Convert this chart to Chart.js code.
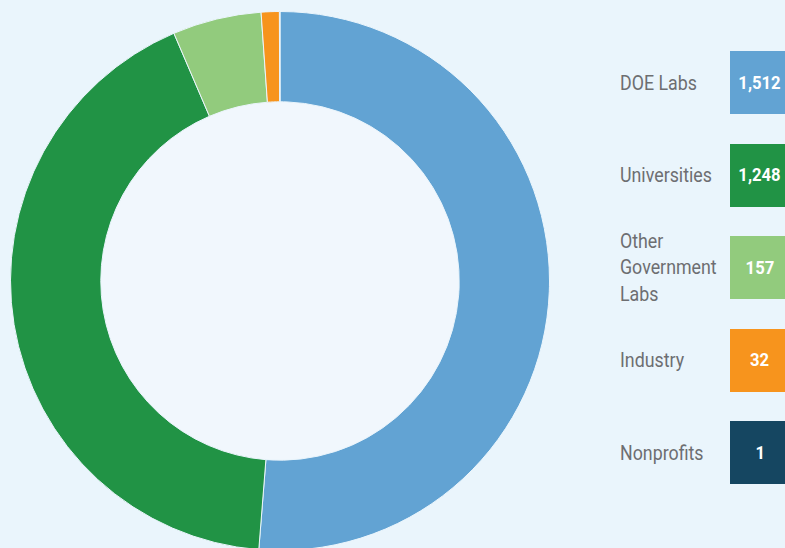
<!DOCTYPE html>
<html>
<head>
    <meta charset='utf-8'>
    <title>Collaborations</title>
    <script src="https://cdn.jsdelivr.net/npm/chart.js"></script>
    <style>
        html, body { margin: 0; padding: 0; }
        body {
            width: 785px; height: 548px; overflow: hidden;
            background: #eaf5fc; position: relative;
            font-family: 'Roboto', sans-serif;
        }
        .donut { position: absolute; left: 10px; top: 11px; width: 540px; height: 540px; }
        .legend { position: absolute; left: 620px; top: 51px; width: 200px; }
        .row { height: 63px; margin-bottom: 29.5px; position: relative; }
        .row .label {
            position: absolute; left: 0; top: 50%;
            transform: translateY(-50%) scaleX(0.89); transform-origin: left center;
            color: #6d6e71; font-size: 20px; line-height: 26.5px; width: 120px;
        }
        .row .box {
            position: absolute; left: 110px; top: 0; width: 60px; height: 63px;
            color: #fff; font-weight: bold; font-size: 18.5px;
            display: flex; align-items: center; justify-content: center;
        }
        .row .box span { display: inline-block; transform: scaleX(0.9); }
    </style>
</head>
<body>
    <div class="donut">
        <canvas id="myDonut"></canvas>
    </div>
    <div class="legend" id="legend"></div>
    <script>

        var labels = ['DOE Labs', 'Universities', 'Other Government Labs', 'Industry', 'Nonprofits'];
        var legendLines = [['DOE Labs'], ['Universities'], ['Other', 'Government', 'Labs'], ['Industry'], ['Nonprofits']];
        var counts = [1512, 1248, 157, 32, 1];
        var colors = ['#62a3d3', '#219345', '#92cb7d', '#f7941d', '#154661'];

        const innerFill = {
            id: 'innerFill',
            beforeDatasetsDraw(chart) {
                const arc = chart.getDatasetMeta(0).data[0];
                if (!arc) return;
                const c = chart.ctx;
                c.save();
                c.fillStyle = '#f1f7fd';
                c.beginPath();
                c.arc(arc.x, arc.y, arc.innerRadius + 1, 0, Math.PI * 2);
                c.fill();
                c.restore();
            }
        };

        const ctx = document.getElementById('myDonut').getContext('2d');
        const myDonut = new Chart(ctx, {
            type: 'doughnut',
            data: {
                labels: labels,
                datasets: [{
                    data: counts,
                    backgroundColor: colors,
                    borderColor: '#eaf5fc',
                    borderWidth: 1,
                }]
            },
            options: {
                responsive: true,
                maintainAspectRatio: false,
                animation: false,
                cutout: '66.5%',
                plugins: {
                    legend: { display: false },
                    tooltip: { enabled: false }
                }
            },
            plugins: [innerFill]
        });

        // legend boxes beside the ring
        const legend = document.getElementById('legend');
        counts.forEach((v, i) => {
            const row = document.createElement('div');
            row.className = 'row';
            const lab = document.createElement('div');
            lab.className = 'label';
            lab.innerHTML = legendLines[i].join('<br>');
            const box = document.createElement('div');
            box.className = 'box';
            box.style.background = colors[i];
            const num = document.createElement('span');
            num.textContent = v.toLocaleString('en-US');
            box.appendChild(num);
            row.appendChild(lab);
            row.appendChild(box);
            legend.appendChild(row);
        });

    </script>
</body>
</html>
